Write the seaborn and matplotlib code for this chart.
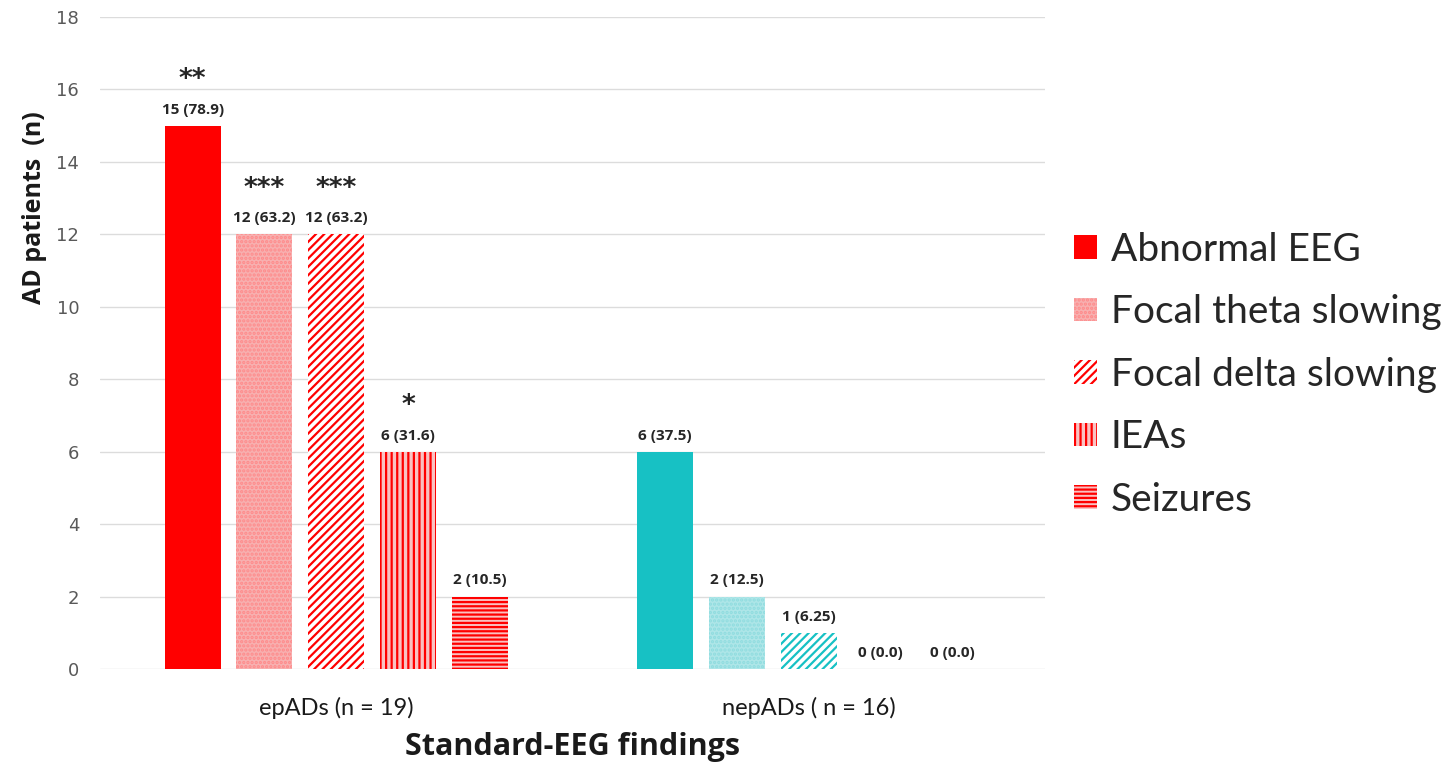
import matplotlib
matplotlib.use("Agg")
import matplotlib.pyplot as plt
from matplotlib.patches import Patch
import pandas as pd
import seaborn as sns

# Standard-EEG findings per AD patient group
groups = ["epADs (n = 19)", "nepADs ( n = 16)"]
findings = ["Abnormal EEG", "Focal theta slowing", "Focal delta slowing", "IEAs", "Seizures"]
ep_counts = [15, 12, 12, 6, 2]
ep_pct = [78.9, 63.2, 63.2, 31.6, 10.5]
ep_sig = ["**", "***", "***", "*", ""]
nep_counts = [6, 2, 1, 0, 0]
nep_pct = [37.5, 12.5, 6.25, 0.0, 0.0]
nep_sig = ["", "", "", "", ""]

counts = [ep_counts, nep_counts]
pcts = [ep_pct, nep_pct]
sigs = [ep_sig, nep_sig]

rows = []
for g, c_list in zip(groups, counts):
    for f, c in zip(findings, c_list):
        rows.append({"group": g, "finding": f, "count": c})
df = pd.DataFrame(rows)

sns.set_theme(style="white")
plt.rcParams["font.family"] = ["DejaVu Sans"]
plt.rcParams["hatch.linewidth"] = 1.6

fig = plt.figure(figsize=(14.53, 7.65), dpi=100)
ax = fig.add_axes([0.0688, 0.1255, 0.6505, 0.8523])

sns.barplot(data=df, x="group", y="count", hue="finding", order=groups,
            hue_order=findings, width=0.76, gap=0.22, ax=ax, legend=False,
            errorbar=None)

# per-finding fill styles: (face, hatch colour, hatch) for each group
red, teal = "#ff0000", "#17c1c4"
styles = {
    0: [("#ff0000", "#ff0000", ""), ("#17c1c4", "#17c1c4", "")],
    1: [("#f7b0b0", "#ff8a8a", "...."), ("#aee6e8", "#8fdcdf", "....")],
    2: [("#ffffff", red, "////"), ("#ffffff", teal, "////")],
    3: [("#f9c2c2", red, "|||"), ("#ffffff", teal, "|||")],
    4: [("#f9c2c2", red, "----"), ("#ffffff", teal, "----")],
}

label_font = ["Open Sans", "DejaVu Sans"]
for i, cont in enumerate(ax.containers):
    for j, bar in enumerate(cont):
        face, edge, hatch = styles[i][j]
        bar.set_facecolor(face)
        bar.set_edgecolor(edge)
        bar.set_hatch(hatch)
        bar.set_linewidth(0)
        x = bar.get_x() + bar.get_width() / 2
        h = bar.get_height()
        ax.text(x, h + 0.25, f"{counts[j][i]} ({pcts[j][i]})", ha="center",
                va="bottom", fontsize=11, fontweight="bold", color="#262626",
                family=label_font)
        if sigs[j][i]:
            ax.text(x, h + 0.9, sigs[j][i], ha="center", va="bottom",
                    fontsize=19, fontweight="bold", color="#262626")

ax.set_ylim(0, 18)
ax.set_yticks(range(0, 19, 2))
ax.yaxis.grid(True, color="#dcdcdc", linewidth=1)
ax.set_axisbelow(True)
for s in ax.spines.values():
    s.set_visible(False)
ax.tick_params(axis="y", length=0, labelsize=13, labelcolor="#595959", pad=15)
ax.tick_params(axis="x", length=0, labelsize=17, labelcolor="#1a1a1a", pad=20)
for lbl in ax.get_xticklabels():
    lbl.set_family(["Lato", "DejaVu Sans"])
ax.set_xlabel("")
ax.set_ylabel("")

fig.text(0.394, 0.004, "Standard-EEG findings", ha="center", va="bottom",
         fontsize=22, fontweight="bold", family=label_font, color="#1a1a1a")
fig.text(0.024, 0.729, "AD patients  (n)", rotation=90, ha="center", va="center",
         fontsize=18, fontweight="bold", family=label_font, color="#1a1a1a")

handles = [Patch(facecolor=styles[i][0][0], edgecolor=styles[i][0][1],
                 hatch=styles[i][0][2], linewidth=0) for i in range(5)]
leg = fig.legend(handles, findings, loc="center left",
                 bbox_to_anchor=(0.739, 0.51), frameon=False,
                 prop={"family": ["Lato", "DejaVu Sans"], "size": 28},
                 handlelength=0.6, handleheight=0.55, handletextpad=0.35,
                 labelspacing=0.68, borderaxespad=0, borderpad=0)

fig.savefig("out.png", dpi=100, facecolor="white")
